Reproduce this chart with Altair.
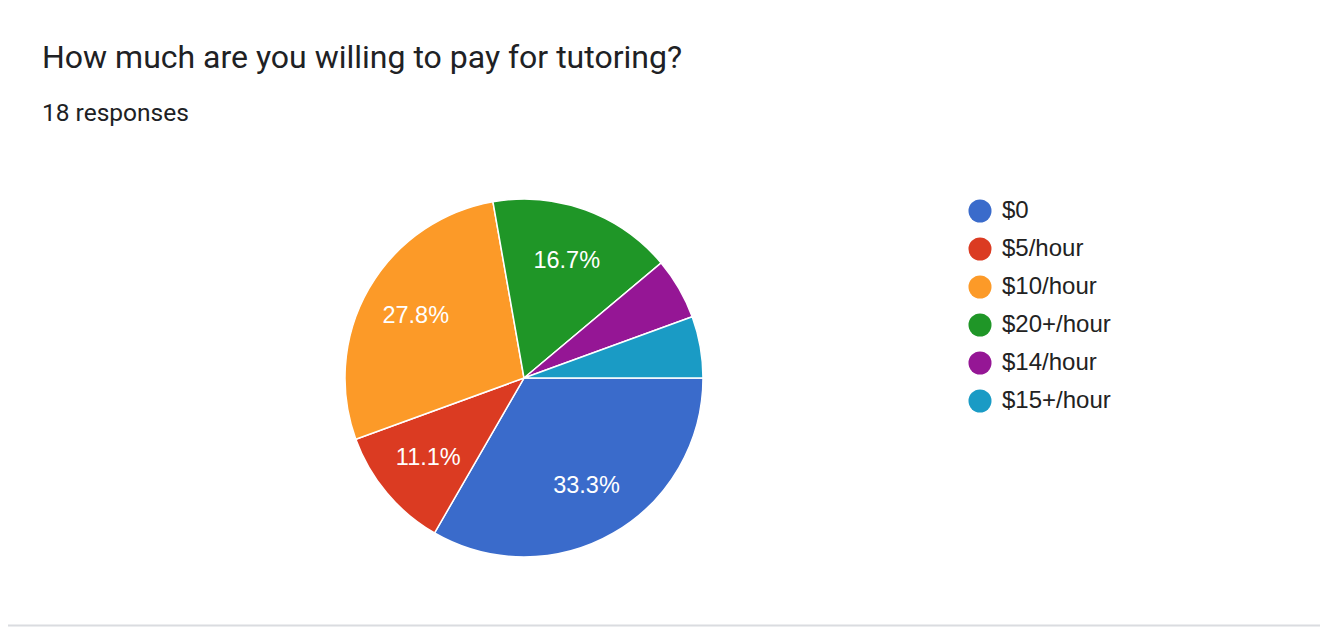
import altair as alt
import pandas as pd
import math

TITLE = "How much are you willing to pay for tutoring?"
SUBTITLE = "18 responses"
categories = ["$0", "$5/hour", "$10/hour", "$20+/hour", "$14/hour", "$15+/hour"]
counts = [6, 2, 5, 3, 1, 1]
colors = ["#3a6bcb", "#db3b22", "#fc9a28", "#1f9627", "#951695", "#1a9bc5"]

total = sum(counts)
df = pd.DataFrame({
    "answer": categories,
    "count": counts,
    "order": list(range(len(categories))),
})
df["pct"] = df["count"] / total

theta_scale = alt.Scale(range=[math.pi / 2, math.pi / 2 + 2 * math.pi])
color_scale = alt.Scale(domain=categories, range=colors)

CX, CY, R = 516, 370, 179

base = alt.Chart(df).encode(
    theta=alt.Theta("count:Q", stack=True, scale=theta_scale),
    order=alt.Order("order:Q"),
)

arcs = base.mark_arc(outerRadius=R, stroke="white", strokeWidth=1.5).encode(
    x=alt.value(CX), y=alt.value(CY),
    color=alt.Color(
        "answer:N", scale=color_scale, sort=categories,
        legend=alt.Legend(
            title=None, orient="none", legendX=960, legendY=191,
            symbolType="circle", symbolSize=530, symbolStrokeWidth=0,
            labelFont="Liberation Sans", labelFontSize=24, labelColor="#222222",
            labelOffset=10, rowPadding=14,
        ),
    ),
)

labels = base.transform_calculate(
    lab="datum.pct >= 0.1 ? format(datum.pct * 100, '.1f') + '%' : ''"
).mark_text(
    radius=125, font="Liberation Sans", fontSize=23.5, color="white"
).encode(x=alt.value(CX), y=alt.value(CY), text="lab:N")

tdf = pd.DataFrame({"t": [TITLE], "s": [SUBTITLE]})
title = alt.Chart(tdf).mark_text(
    align="left", baseline="alphabetic", font="Roboto", fontSize=32, color="#202124"
).encode(x=alt.value(34), y=alt.value(59.5), text="t:N")
subtitle = alt.Chart(tdf).mark_text(
    align="left", baseline="alphabetic", font="Roboto", fontSize=24.5, color="#202124"
).encode(x=alt.value(34), y=alt.value(113), text="s:N")

border = alt.Chart(tdf).mark_rule(color="#dadce0", strokeWidth=2).encode(
    x=alt.value(-8), x2=alt.value(1320), y=alt.value(617.5)
)

chart = alt.layer(arcs, labels, title, subtitle, border).properties(
    width=1312, height=620, padding=0, autosize=alt.AutoSizeParams(type="none")
).configure(background="white").configure_view(stroke=None, strokeWidth=0)

chart.save("out.html", embed_options={"renderer": "svg", "actions": False})
